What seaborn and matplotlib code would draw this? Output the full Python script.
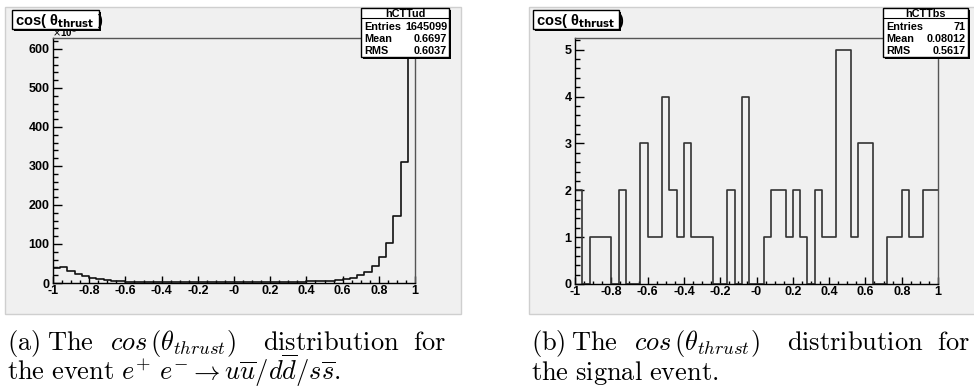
import numpy as np
import pandas as pd
import matplotlib
matplotlib.use("Agg")
import matplotlib.pyplot as plt
import matplotlib.transforms as mtransforms
from matplotlib.patches import Rectangle
from matplotlib.lines import Line2D
from matplotlib.ticker import MultipleLocator, FixedLocator, FixedFormatter
import seaborn as sns

# ---------------- data ----------------
n_bins = 50
x_range = (-1.0, 1.0)
bin_centers = np.linspace(-0.98, 0.98, n_bins)

# e+e- -> uu/dd/ss  (counts in units of 10^3)
counts_udsbar = [38, 41, 31, 23, 17, 12.5, 9, 7, 5.5, 4.5,
                 3.8, 3.2, 2.8, 2.5, 2.2, 2.0, 1.9, 1.8, 1.7, 1.6,
                 1.6, 1.6, 1.6, 1.6, 1.6, 1.7, 1.7, 1.8, 1.9, 2.0,
                 2.2, 2.4, 2.7, 3.0, 3.5, 4.0, 4.7, 5.6, 6.0, 7.0,
                 10, 14, 19.5, 28, 43, 66, 103, 172, 309, 598]

# signal events
counts_signal = [2, 0, 1, 1, 1, 0, 2, 0, 0, 3,
                 1, 1, 4, 2, 1, 3, 1, 1, 1, 0,
                 0, 2, 0, 4, 0, 0, 1, 2, 2, 1,
                 2, 1, 0, 2, 1, 1, 5, 5, 1, 3,
                 3, 0, 0, 1, 1, 2, 1, 1, 2, 2]

xtick_vals = [-1, -0.8, -0.6, -0.4, -0.2, 0, 0.2, 0.4, 0.6, 0.8, 1]
xtick_labels = ["-1", "-0.8", "-0.6", "-0.4", "-0.2", "-0", "0.2", "0.4", "0.6", "0.8", "1"]

stats_a = ("hCTTud", [("Entries", "1645099"), ("Mean", "0.6697"), ("RMS", "0.6037")])
stats_b = ("hCTTbs", [("Entries", "71"), ("Mean", "0.08012"), ("RMS", "0.5617")])

# ---------------- figure ----------------
W, H = 974, 390
fig = plt.figure(figsize=(W / 100, H / 100), dpi=100)
fig.patch.set_facecolor("white")
px = mtransforms.Affine2D().scale(1 / W, -1 / H).translate(0, 1) + fig.transFigure

LABEL_FONT = ["Liberation Sans", "DejaVu Sans"]


def ax_rect(x0, y0, x1, y1):
    return [x0 / W, 1 - y1 / H, (x1 - x0) / W, (y1 - y0) / H]


def canvas(x0, y0, x1, y1):
    fig.patches.append(Rectangle((x0, y0), x1 - x0, y1 - y0, transform=px,
                                 facecolor="#f0f0f0", edgecolor="#cfcfcf",
                                 linewidth=1, zorder=-5))


def boxed(x0, y0, x1, y1, z=10):
    fig.patches.append(Rectangle((x0 + 2, y0 + 2), x1 - x0, y1 - y0, transform=px,
                                 facecolor="#000000", edgecolor="none", zorder=z))
    fig.patches.append(Rectangle((x0, y0), x1 - x0, y1 - y0, transform=px,
                                 facecolor="white", edgecolor="black",
                                 linewidth=1, zorder=z + 0.5))


def stats_box(x0, y0, x1, y1, stats):
    name, rows = stats
    boxed(x0, y0, x1, y1, z=10)
    fig.text((x0 + x1) / 2, 13.8, name, transform=px, ha="center", va="center",
             fontsize=7.8, fontweight="bold", family=LABEL_FONT, zorder=12)
    fig.lines.append(Line2D([x0, x1], [18.3, 18.3], transform=px, color="black",
                            linewidth=0.8, zorder=12))
    for i, (k, v) in enumerate(rows):
        yy = 27.5 + i * 11.8
        fig.text(x0 + 3, yy, k, transform=px, ha="left", va="center",
                 fontsize=7.8, fontweight="bold", family=LABEL_FONT, zorder=12)
        fig.text(x1 - 2, yy, v, transform=px, ha="right", va="center",
                 fontsize=7.8, fontweight="bold", family=LABEL_FONT, zorder=12)


def title_box(x0, y0, x1, y1):
    boxed(x0, y0, x1, y1, z=10)
    fig.text(x0 + 3, (y0 + y1) / 2 + 1, "cos( θ$_{\\mathbf{thrust}}$ )",
             transform=px, ha="left", va="center", fontsize=10.5,
             fontweight="bold", family=LABEL_FONT, math_fontfamily="dejavusans",
             zorder=12)


def style_axes(ax, ymax, ymajor, yminor):
    ax.set_facecolor("#f0f0f0")
    ax.set_xlim(-1, 1)
    ax.set_ylim(0, ymax)
    ax.xaxis.set_major_locator(FixedLocator(xtick_vals))
    ax.xaxis.set_major_formatter(FixedFormatter(xtick_labels))
    ax.xaxis.set_minor_locator(MultipleLocator(0.05))
    ax.yaxis.set_major_locator(MultipleLocator(ymajor))
    ax.yaxis.set_minor_locator(MultipleLocator(yminor))
    ax.tick_params(which="both", direction="in", color="black", width=1,
                   top=False, right=False)
    ax.tick_params(axis="x", which="major", length=5.0, pad=1.5)
    ax.tick_params(axis="x", which="minor", length=2.5)
    ax.tick_params(axis="y", which="major", length=6.5, pad=2.5)
    ax.tick_params(axis="y", which="minor", length=3.3)
    for lab in ax.get_xticklabels() + ax.get_yticklabels():
        lab.set_fontweight("bold")
        lab.set_fontsize(9)
        lab.set_family(LABEL_FONT)
    ax.spines["left"].set_color("black")
    ax.spines["bottom"].set_color("black")
    ax.spines["top"].set_color("#555555")
    ax.spines["right"].set_color("#555555")
    for s in ax.spines.values():
        s.set_linewidth(1)
    ax.set_xlabel("")
    ax.set_ylabel("")


# canvases
canvas(5, 7, 461, 314)
canvas(529, 7, 990, 314)

# left panel
axA = fig.add_axes(ax_rect(53, 38, 415, 283), zorder=2)
dfA = pd.DataFrame({"x": bin_centers, "w": counts_udsbar})
sns.histplot(data=dfA, x="x", weights="w", bins=n_bins, binrange=x_range,
             element="step", fill=False, color="#111111", linewidth=1.2, ax=axA)
style_axes(axA, 628, 100, 20)
fig.text(52, 37, r"$\times$10$^{3}$", transform=px, ha="left", va="baseline",
         fontsize=7, fontweight="bold", family=LABEL_FONT, zorder=5)

# right panel
axB = fig.add_axes(ax_rect(575, 38, 938, 284), zorder=2)
dfB = pd.DataFrame({"x": bin_centers, "w": counts_signal})
sns.histplot(data=dfB, x="x", weights="w", bins=n_bins, binrange=x_range,
             element="step", fill=False, color="#333333", linewidth=1.2, ax=axB)
style_axes(axB, 5.25, 1, 0.2)

# title & stats boxes
title_box(12, 10, 99, 29)
title_box(533, 10, 619, 29)
stats_box(361, 8, 449, 57, stats_a)
stats_box(883, 8, 968, 57, stats_b)

# captions
cap = dict(transform=px, ha="left", va="baseline", fontsize=19,
           math_fontfamily="cm", zorder=5)
ly1, ly2 = 350, 380
fig.text(7, ly1, r"$\mathrm{(a)}$", **cap)
fig.text(47, ly1, r"$\mathrm{The}$", **cap)
fig.text(110, ly1, r"$cos\,(\theta_{thrust})$", **cap)
fig.text(263, ly1, r"$\mathrm{distribution}$", **cap)
fig.text(413, ly1, r"$\mathrm{for}$", **cap)
fig.text(7, ly2, r"$\mathrm{the\ event}\ e^{+}\ e^{-}\rightarrow u\overline{u}/d\overline{d}/s\overline{s}.$", **cap)

fig.text(531, ly1, r"$\mathrm{(b)}$", **cap)
fig.text(571, ly1, r"$\mathrm{The}$", **cap)
fig.text(634, ly1, r"$cos\,(\theta_{thrust})$", **cap)
fig.text(787, ly1, r"$\mathrm{distribution}$", **cap)
fig.text(937, ly1, r"$\mathrm{for}$", **cap)
fig.text(531, ly2, r"$\mathrm{the\ signal\ event.}$", **cap)

fig.savefig("out.png", dpi=100, facecolor="white")
